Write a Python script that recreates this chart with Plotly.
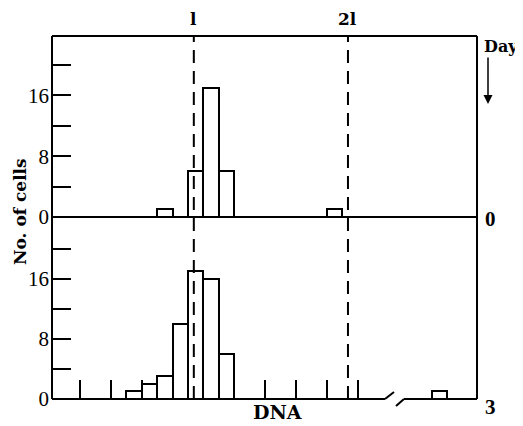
import plotly.graph_objects as go

# ---- data (bin centres in DNA units, counts) ----
day0_x = [7.5, 9.5, 10.5, 11.5, 18.5]
day0_counts = [1, 6, 17, 6, 1]
day3_x = [5.5, 6.5, 7.5, 8.5, 9.5, 10.5, 11.5, 25.3]
day3_counts = [1, 2, 3, 10, 17, 16, 6, 1]
ref_lines = {"l": 9.38, "2l": 19.38}
y_tick_vals = [0, 4, 8, 12, 16, 20]
y_tick_text = ["0", "", "8", "", "16", ""]
x_tick_vals = [2, 4, 6, 8, 10, 12, 14, 16, 18, 20]

# page body has an 8px margin, so the figure is drawn 8px smaller and offset
OFF = 8
W, H = 523 - OFF, 426 - OFF
PL, PR, PT, PB = 52, 477, 36, 399          # plot area in window pixels
L, R, T, B = PL - OFF, 523 - PR, PT - OFF, 426 - PB
PW, PH = PR - PL, PB - PT
X0, X1 = 0.18, 27.75
MID = (PB - 217) / PH

FONT = "Liberation Serif"
FONT2 = "DejaVu Serif"

def px(x):
    return (x - PL) / PW

def py(y):
    return (PB - y) / PH

fig = go.Figure()
bar_style = dict(marker=dict(color="white", line=dict(color="black", width=2)),
                 width=1, showlegend=False, hoverinfo="skip")
fig.add_trace(go.Bar(x=day0_x, y=day0_counts, xaxis="x", yaxis="y", **bar_style))
fig.add_trace(go.Bar(x=day3_x, y=day3_counts, xaxis="x2", yaxis="y2", **bar_style))

yax = dict(ticks="inside", ticklen=19, tickwidth=2, tickcolor="black",
           tickvals=y_tick_vals, ticktext=y_tick_text, showgrid=False,
           zeroline=False, showline=False, ticklabelstandoff=2, automargin=False,
           tickfont=dict(family=FONT, size=21, color="black"))

fig.update_layout(
    width=W, height=H, margin=dict(l=L, r=R, t=T, b=B),
    plot_bgcolor="white", paper_bgcolor="white", bargap=0,
    xaxis=dict(domain=[0, 1], range=[X0, X1], anchor="y", showticklabels=False,
               ticks="", showgrid=False, zeroline=False, showline=False),
    xaxis2=dict(domain=[0, 1], range=[X0, X1], anchor="y2", showticklabels=False,
                ticks="inside", ticklen=19, tickwidth=2, tickcolor="black",
                tickvals=x_tick_vals, showgrid=False, zeroline=False, showline=False),
    yaxis=dict(domain=[MID, 1], range=[0, 23.8], anchor="x", **yax),
    yaxis2=dict(domain=[0, MID], range=[0, 24.2], anchor="x2", **yax),
)

shapes = []
ln = dict(color="black", width=2)
# frame
shapes.append(dict(type="line", xref="paper", yref="paper", x0=0, x1=0, y0=0, y1=1, line=ln))
shapes.append(dict(type="line", xref="paper", yref="paper", x0=1, x1=1, y0=0, y1=1, line=ln))
shapes.append(dict(type="line", xref="paper", yref="paper", x0=0, x1=1, y0=1, y1=1, line=ln))
shapes.append(dict(type="line", xref="paper", yref="paper", x0=0, x1=1, y0=MID, y1=MID, line=ln))
# bottom axis with break
shapes.append(dict(type="line", xref="paper", yref="paper", x0=0, x1=px(385), y0=0, y1=0, line=ln))
shapes.append(dict(type="line", xref="paper", yref="paper", x0=px(385), x1=px(394), y0=0, y1=py(392), line=ln))
shapes.append(dict(type="line", xref="paper", yref="paper", x0=px(396), x1=px(404), y0=py(406), y1=0, line=ln))
shapes.append(dict(type="line", xref="paper", yref="paper", x0=px(404), x1=1, y0=0, y1=0, line=ln))
# reference dashed lines
for v in ref_lines.values():
    shapes.append(dict(type="line", xref="x", yref="paper", x0=v, x1=v, y0=0, y1=1,
                       line=dict(color="black", width=2, dash="13px,8px")))
fig.update_layout(shapes=shapes)

tf = dict(family=FONT2, size=17, color="black")
ann = []
for name, v in ref_lines.items():
    ann.append(dict(x=v, y=py(19), xref="x", yref="paper", text="<b>%s</b>" % name,
                    showarrow=False, font=tf, xanchor="center", yanchor="middle"))
ann.append(dict(x=px(20), y=py(212), xref="paper", yref="paper", text="<b>No. of cells</b>",
                showarrow=False, textangle=-90, font=dict(family=FONT2, size=17, color="black"),
                xanchor="center", yanchor="middle"))
ann.append(dict(x=px(277), y=py(412), xref="paper", yref="paper", text="<b>DNA</b>",
                showarrow=False, font=dict(family=FONT2, size=19, color="black"),
                xanchor="center", yanchor="middle"))
ann.append(dict(x=px(482), y=py(47), xref="paper", yref="paper", text="<b>Day</b>",
                showarrow=False, font=dict(family=FONT2, size=16, color="black"),
                xanchor="left", yanchor="middle"))
ann.append(dict(x=px(483), y=py(219), xref="paper", yref="paper", text="<b>0</b>",
                showarrow=False, font=dict(family=FONT, size=21, color="black"),
                xanchor="left", yanchor="middle"))
ann.append(dict(x=px(483), y=py(407), xref="paper", yref="paper", text="<b>3</b>",
                showarrow=False, font=dict(family=FONT, size=21, color="black"),
                xanchor="left", yanchor="middle"))
ann.append(dict(x=px(488), y=py(104), xref="paper", yref="paper", text="",
                showarrow=True, ax=0, ay=-48, axref="pixel", ayref="pixel",
                arrowhead=2, arrowsize=1.2, arrowwidth=1.5, arrowcolor="black"))
fig.update_layout(annotations=ann)

fig.write_html("out.html")
